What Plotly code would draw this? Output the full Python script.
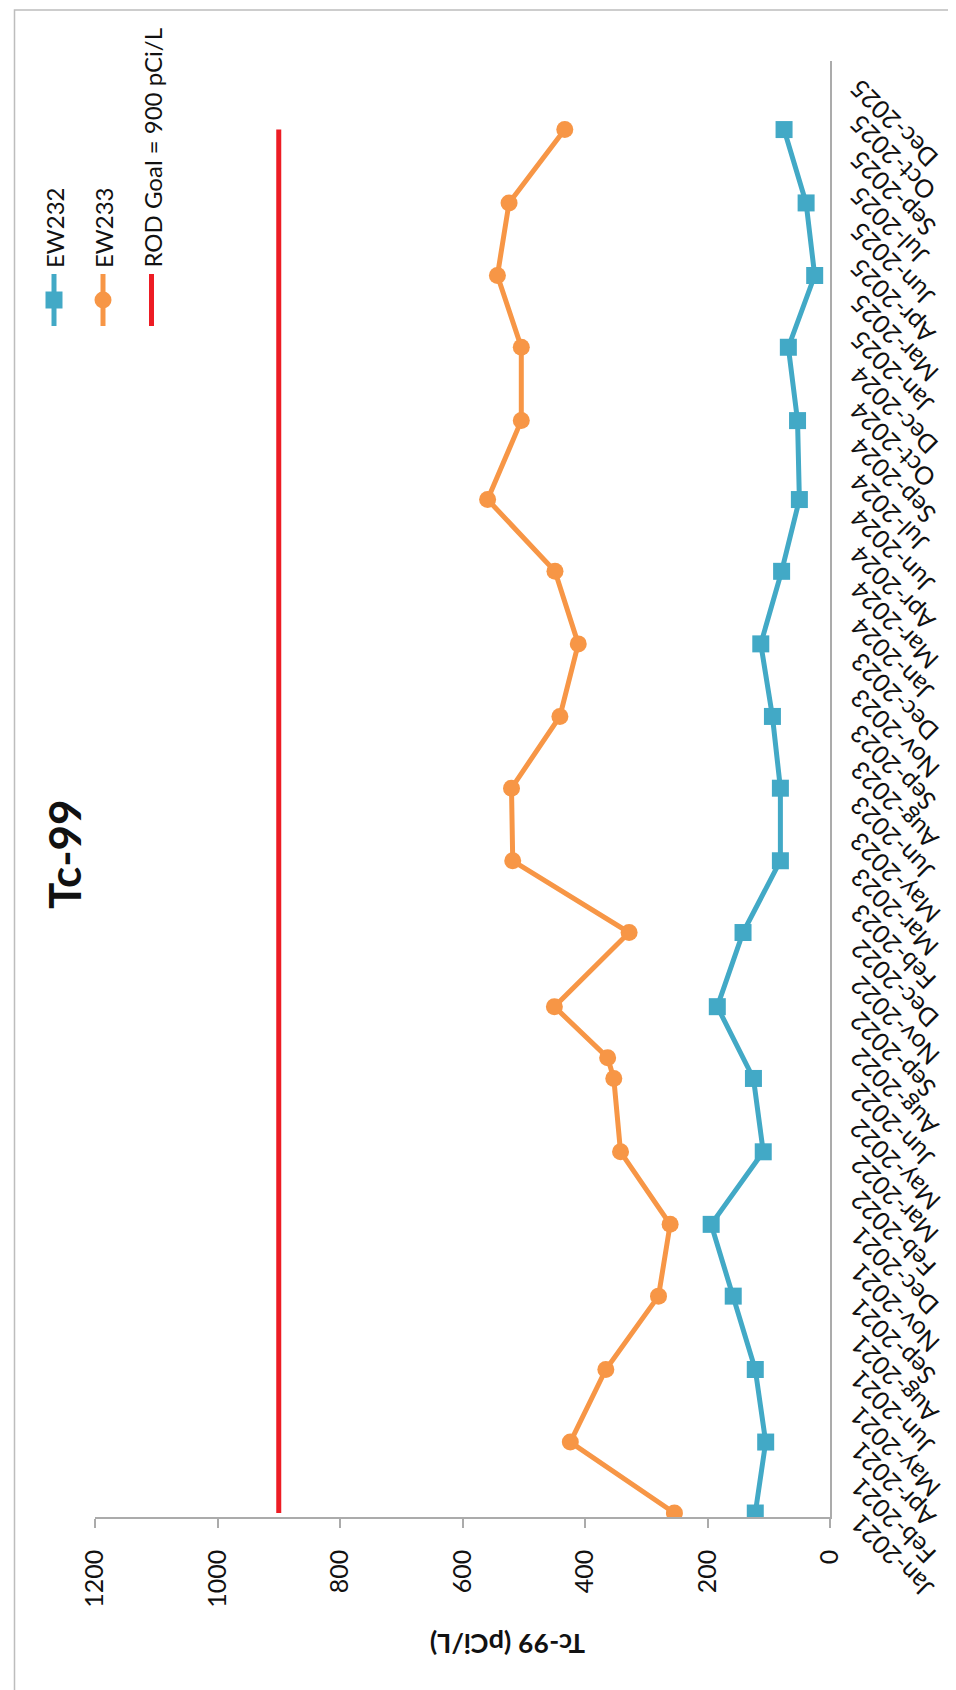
import plotly.graph_objects as go
import pandas as pd

# ---------------- data ----------------
DATES_EW232 = ['2021-01-06', '2021-04-05', '2021-07-05', '2021-10-05', '2022-01-03',
               '2022-04-04', '2022-07-05', '2022-10-03', '2023-01-04', '2023-04-04',
               '2023-07-04', '2023-10-02', '2024-01-01', '2024-04-01', '2024-06-30',
               '2024-10-07', '2025-01-07', '2025-04-07', '2025-07-07', '2025-10-07']
EW232 = [122, 105, 122, 158, 194, 109, 125, 184, 142, 81,
         81, 94, 113, 79, 50, 53, 68, 25, 39, 75]

DATES_EW233 = ['2021-01-06', '2021-04-05', '2021-07-05', '2021-10-05', '2022-01-03',
               '2022-04-04', '2022-07-05', '2022-07-31', '2022-10-03', '2023-01-04',
               '2023-04-04', '2023-07-04', '2023-10-02', '2024-01-01', '2024-04-01',
               '2024-06-30', '2024-10-07', '2025-01-07', '2025-04-07', '2025-07-07',
               '2025-10-07']
EW233 = [254, 424, 366, 280, 261, 342, 353, 363, 450, 328,
         518, 520, 441, 411, 449, 559, 504, 504, 543, 524, 433]

ROD_GOAL = 900
ROD_DATES = DATES_EW232
ROD_VALUES = [ROD_GOAL] * len(ROD_DATES)

VALUE_TICKS = [0, 200, 400, 600, 800, 1000, 1200]
VALUE_RANGE = [1200, 0]
DATE_RANGE = ['2021-01-01', '2026-01-01']
# Excel date axis: major unit 45 days from Jan-2021
DATE_TICKS = list(pd.date_range('2021-01-01', periods=41, freq='45D'))
DATE_TICK_LABELS = [d.strftime('%b-%Y') for d in DATE_TICKS]

TITLE = 'Tc-99'
AXIS_TITLE = 'Tc-99 (pCi/L)'
NAMES = ['EW232', 'EW233', 'ROD Goal = 900 pCi/L']

# ---------------- style ----------------
W, H = 956, 1690
ML, MR, MT, MB = 87, 134, 53, 181
PW, PH = W - ML - MR, H - MT - MB
FONT = 'Lato, Carlito, Calibri, sans-serif'
BLUE = '#42A9C6'
ORANGE = '#F79646'
RED = '#ED1C24'
GREY = '#ABABAB'
TXT = '#111111'
LW = 5


def px_x(px):
    return (px - ML) / PW


def px_y(py):
    return (H - MB - py) / PH


fig = go.Figure()
fig.add_trace(go.Scatter(x=EW232, y=DATES_EW232, mode='lines+markers', name=NAMES[0],
                         line=dict(color=BLUE, width=LW),
                         marker=dict(symbol='square', size=17, color=BLUE)))
fig.add_trace(go.Scatter(x=EW233, y=DATES_EW233, mode='lines+markers', name=NAMES[1],
                         line=dict(color=ORANGE, width=LW),
                         marker=dict(symbol='circle', size=17, color=ORANGE)))
fig.add_trace(go.Scatter(x=ROD_VALUES, y=ROD_DATES, mode='lines', name=NAMES[2],
                         line=dict(color=RED, width=LW)))

annotations = []
# rotated date tick labels (chart is turned 90 degrees)
for d, lab in zip(DATE_TICKS, DATE_TICK_LABELS):
    annotations.append(dict(x=px_x(833), xref='paper', y=d.strftime('%Y-%m-%d'), yref='y',
                            text=lab, textangle=-135, showarrow=False,
                            xanchor='left', yanchor='top', yshift=11,
                            font=dict(family=FONT, size=25, color=TXT)))
# chart title
annotations.append(dict(x=px_x(56), y=px_y(846), xref='paper', yref='paper',
                        text='<b>%s</b>' % TITLE, textangle=-90, showarrow=False,
                        xanchor='center', yanchor='middle',
                        font=dict(family=FONT, size=44, color=TXT)))
# value axis title (upside down)
annotations.append(dict(x=px_x(500), y=px_y(1636), xref='paper', yref='paper',
                        text='<b>%s</b>' % AXIS_TITLE, textangle=180, showarrow=False,
                        xanchor='center', yanchor='middle',
                        font=dict(family=FONT, size=27, color=TXT)))

shapes = []
# legend (rotated)
legend_x = [46, 95, 143.5]
legend_col = [BLUE, ORANGE, RED]
for lx, name, col in zip(legend_x, NAMES, legend_col):
    annotations.append(dict(x=px_x(lx), y=px_y(262), xref='paper', yref='paper',
                            text=name, textangle=-90, showarrow=False,
                            xanchor='center', yanchor='bottom',
                            font=dict(family=FONT, size=24, color=TXT)))
    shapes.append(dict(type='line', xref='paper', yref='paper',
                       x0=px_x(lx), x1=px_x(lx), y0=px_y(266), y1=px_y(318),
                       line=dict(color=col, width=LW)))
shapes.append(dict(type='rect', xref='paper', yref='paper',
                   x0=px_x(legend_x[0] - 8.5), x1=px_x(legend_x[0] + 8.5),
                   y0=px_y(283.5), y1=px_y(300.5), fillcolor=BLUE, line=dict(width=0)))
shapes.append(dict(type='circle', xref='paper', yref='paper',
                   x0=px_x(legend_x[1] - 8.5), x1=px_x(legend_x[1] + 8.5),
                   y0=px_y(283.5), y1=px_y(300.5), fillcolor=ORANGE, line=dict(width=0)))
# chart border
shapes.append(dict(type='rect', xref='paper', yref='paper',
                   x0=px_x(6.5), x1=px_x(962), y0=px_y(2), y1=px_y(1688),
                   line=dict(color='#BDBDBD', width=1.5), layer='below'))

fig.update_layout(
    width=W, height=H,
    margin=dict(l=ML, r=MR, t=MT, b=MB, pad=0),
    paper_bgcolor='white', plot_bgcolor='white',
    showlegend=False,
    annotations=annotations,
    shapes=shapes,
    xaxis=dict(range=VALUE_RANGE, tickvals=VALUE_TICKS, ticktext=[str(v) for v in VALUE_TICKS],
               tickangle=-90, ticks='outside', ticklen=9, tickwidth=1.5, tickcolor=GREY,
               showline=True, linecolor=GREY, linewidth=1.5, showgrid=False, zeroline=False,
               ticklabelstandoff=12,
               tickfont=dict(family=FONT, size=25, color=TXT)),
    yaxis=dict(type='date', range=DATE_RANGE, side='right', showticklabels=False,
               ticks='', showline=True, linecolor=GREY, linewidth=1.5,
               showgrid=False, zeroline=False),
)

fig.write_html('out.html')
